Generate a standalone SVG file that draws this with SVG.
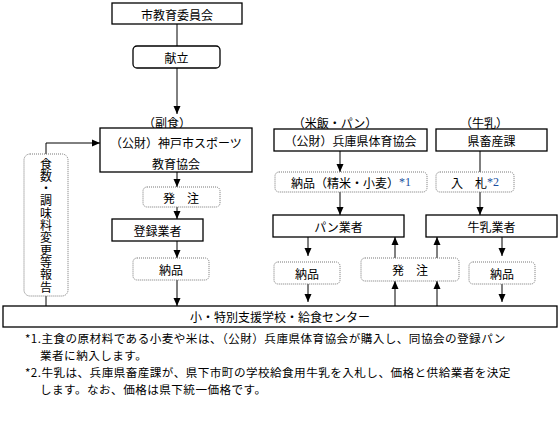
<svg xmlns="http://www.w3.org/2000/svg" width="560" height="430" viewBox="0 0 560 430">
<style>
text{font-family:"Noto Sans CJK JP","Noto Sans CJK SC",sans-serif;font-size:12px;fill:#000;}
.c{text-anchor:middle;dominant-baseline:central;}
.box{fill:#fff;stroke:#000;stroke-width:1.3;}
.dot{fill:#fff;stroke:#777;stroke-width:1;stroke-dasharray:1,1;}
.rnd{fill:#fff;stroke:#000;stroke-width:1.3;}
.ln{fill:none;stroke:#000;stroke-width:1;}
.blue{fill:#1a4fa0;font-family:"Liberation Serif",serif;}
.note{font-size:11.6px;letter-spacing:0.45px;}
</style>
<defs>
<marker id="ah" viewBox="0 0 8 8" refX="8" refY="4" markerWidth="8" markerHeight="8" markerUnits="userSpaceOnUse" orient="auto">
<path d="M0,0.5 L8,4 L0,7.5 Z" fill="#000"/>
</marker>
</defs>
<rect width="560" height="430" fill="#fff"/>
<g id="connectors">
<line class="ln" x1="177" y1="24" x2="177" y2="46"/>
<line class="ln" x1="177" y1="68" x2="177" y2="114" marker-end="url(#ah)"/>
<polyline class="ln" points="46,154 46,143 100,143" marker-end="url(#ah)"/>
<line class="ln" x1="46" y1="296" x2="46" y2="306"/>
<line class="ln" x1="177" y1="172" x2="177" y2="187" marker-end="url(#ah)"/>
<line class="ln" x1="177" y1="207" x2="177" y2="219" marker-end="url(#ah)"/>
<line class="ln" x1="177" y1="241" x2="177" y2="258" marker-end="url(#ah)"/>
<line class="ln" x1="177" y1="280" x2="177" y2="306" marker-end="url(#ah)"/>
<line class="ln" x1="340" y1="151" x2="340" y2="172" marker-end="url(#ah)"/>
<line class="ln" x1="340" y1="192" x2="340" y2="215" marker-end="url(#ah)"/>
<line class="ln" x1="480" y1="151" x2="480" y2="172"/>
<line class="ln" x1="480" y1="192" x2="480" y2="215" marker-end="url(#ah)"/>
<line class="ln" x1="308" y1="237" x2="308" y2="256" marker-end="url(#ah)"/>
<line class="ln" x1="308" y1="284" x2="308" y2="302" marker-end="url(#ah)"/>
<line class="ln" x1="502" y1="237" x2="502" y2="256" marker-end="url(#ah)"/>
<line class="ln" x1="502" y1="284" x2="502" y2="302" marker-end="url(#ah)"/>
<line class="ln" x1="395" y1="306" x2="395" y2="281" marker-end="url(#ah)"/>
<line class="ln" x1="437" y1="306" x2="437" y2="281" marker-end="url(#ah)"/>
<line class="ln" x1="395" y1="258" x2="395" y2="237" marker-end="url(#ah)"/>
<line class="ln" x1="437" y1="258" x2="437" y2="237" marker-end="url(#ah)"/>
</g>
<g id="board">
<rect class="box" x="112" y="3" width="130" height="21"/>
<text class="c" x="177" y="14">市教育委員会</text>
</g>
<g id="menu">
<rect class="rnd" x="133" y="46" width="87" height="22" rx="4"/>
<text class="c" x="176.5" y="57">献立</text>
</g>
<g id="label-fukushoku"><text class="c" x="167" y="122">（副食）</text></g>
<g id="kobe">
<rect class="box" x="100" y="128" width="152" height="44"/>
<text class="c" x="176" y="142">（公財）神戸市スポーツ</text>
<text class="c" x="176" y="163">教育協会</text>
</g>
<g id="report">
<rect class="dot" x="24" y="154" width="44" height="142" rx="6"/>
<text x="46" y="158" style="writing-mode:vertical-rl;letter-spacing:0.3px" text-anchor="start">食数・調味料変更等報告</text>
</g>
<g id="order1">
<rect class="dot" x="143" y="187" width="77" height="20" rx="4"/>
<text class="c" x="181" y="197">発　注</text>
</g>
<g id="registered">
<rect class="box" x="112" y="219" width="91" height="22"/>
<text class="c" x="157.5" y="230">登録業者</text>
</g>
<g id="deliver1">
<rect class="dot" x="133" y="258" width="76" height="22" rx="4"/>
<text class="c" x="171" y="269">納品</text>
</g>
<g id="label-bread"><text class="c" x="335" y="122">（米飯・パン）</text></g>
<g id="hyogo">
<rect class="box" x="274" y="129" width="153" height="22"/>
<text class="c" x="350.5" y="140">（公財）兵庫県体育協会</text>
</g>
<g id="deliver-rice">
<rect class="dot" x="275" y="172" width="152" height="20" rx="4"/>
<text class="c" x="351" y="182">納品（精米・小麦）<tspan class="blue">*1</tspan></text>
</g>
<g id="bread">
<rect class="box" x="273" y="215" width="131" height="22"/>
<text class="c" x="338.5" y="226">パン業者</text>
</g>
<g id="label-milk"><text class="c" x="484" y="122">（牛乳）</text></g>
<g id="livestock">
<rect class="box" x="436" y="129" width="111" height="22"/>
<text class="c" x="491.5" y="140">県畜産課</text>
</g>
<g id="bid">
<rect class="dot" x="436" y="172" width="78" height="20" rx="4"/>
<text class="c" x="475" y="182">入　札<tspan class="blue">*2</tspan></text>
</g>
<g id="milk">
<rect class="box" x="426" y="215" width="131" height="22"/>
<text class="c" x="491.5" y="226">牛乳業者</text>
</g>
<g id="deliver2">
<rect class="dot" x="274" y="262" width="66" height="22" rx="4"/>
<text class="c" x="307" y="273">納品</text>
</g>
<g id="order2">
<rect class="dot" x="361" y="258" width="98" height="23" rx="4"/>
<text class="c" x="410" y="269.5">発　注</text>
</g>
<g id="deliver3">
<rect class="dot" x="469" y="262" width="66" height="22" rx="4"/>
<text class="c" x="502" y="273">納品</text>
</g>
<g id="schools">
<rect class="box" x="3" y="306" width="554" height="21"/>
<text class="c" x="280" y="316.5">小・特別支援学校・給食センター</text>
</g>
<g id="notes">
<text class="note" x="25" y="338" dominant-baseline="central">*1.主食の原材料である小麦や米は、（公財）兵庫県体育協会が購入し、同協会の登録パン</text>
<text class="note" x="40" y="355" dominant-baseline="central">業者に納入します。</text>
<text class="note" x="25" y="372" dominant-baseline="central">*2.牛乳は、兵庫県畜産課が、県下市町の学校給食用牛乳を入札し、価格と供給業者を決定</text>
<text class="note" x="40" y="389" dominant-baseline="central">します。なお、価格は県下統一価格です。</text>
</g>
</svg>
